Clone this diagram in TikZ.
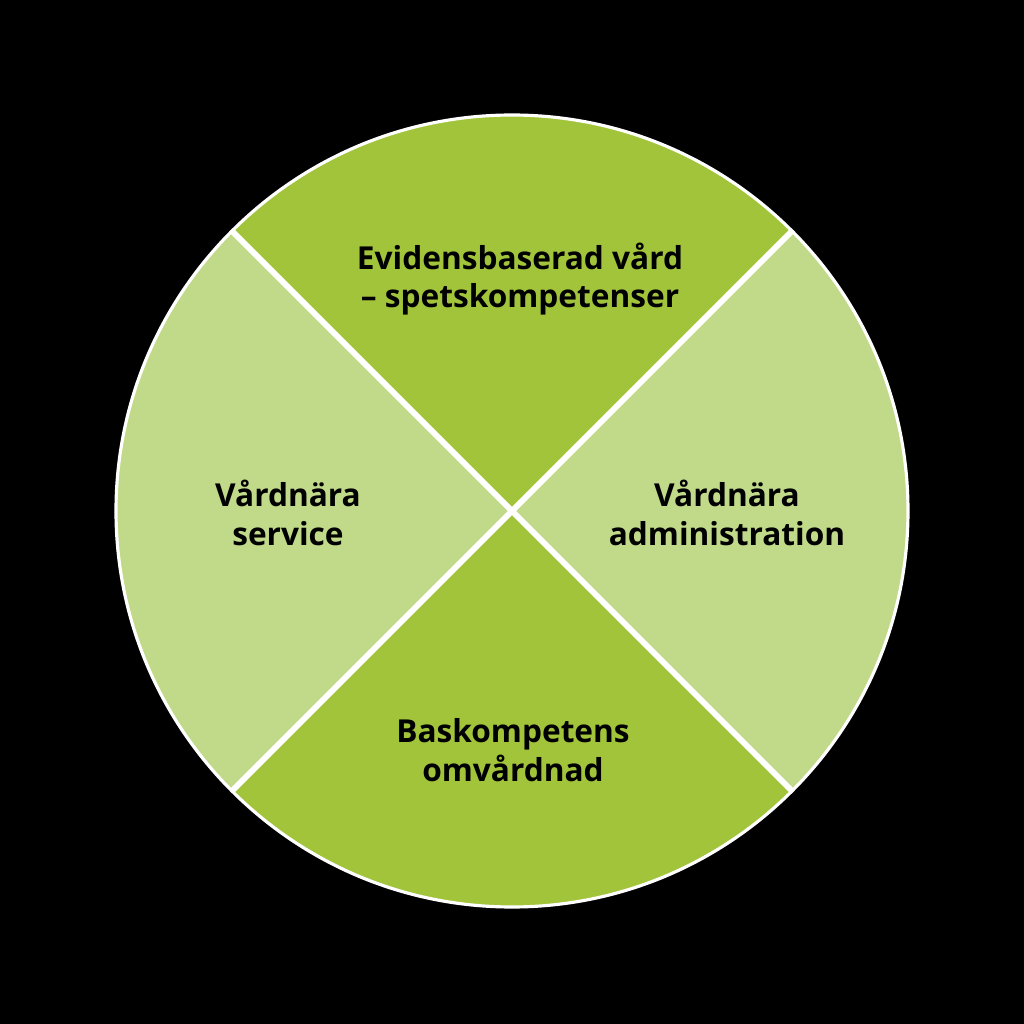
\documentclass[tikz,border=0pt]{standalone}
\usepackage{fontspec}
\setmainfont{Open Sans}
\usepackage{tikz}
\usetikzlibrary{positioning,calc}
\definecolor{leaf}{HTML}{A1C43A}
\definecolor{paleleaf}{HTML}{C1DA89}
\tikzset{sector/.style={draw=none},
  divider/.style={draw=white,line width=1.7pt},
  label/.style={align=center,text=black,font=\fontsize{9}{10.9}\selectfont\bfseries}}
\begin{document}
\begin{tikzpicture}[x=1cm,y=1cm]
\fill[black] (0,0) rectangle (10.24,10.24);
\useasboundingbox (0,0) rectangle (10.24,10.24);
\coordinate (mid) at (5.12,5.13);
% four quarters
\foreach \a/\c in {45/leaf,135/paleleaf,225/leaf,315/paleleaf}
  \fill[\c] (mid) -- ++(\a:3.95) arc[start angle=\a,end angle=\a+90,radius=3.95] -- cycle;
\draw[white,line width=0.9pt] (mid) circle[radius=3.96];
\coordinate (ne) at ($(mid)+(45:3.96)$);
\coordinate (nw) at ($(mid)+(135:3.96)$);
\coordinate (sw) at ($(mid)+(225:3.96)$);
\coordinate (se) at ($(mid)+(315:3.96)$);
\draw[divider] (ne) -- (sw);
\draw[divider] (nw) -- (se);
\node[label] (top) at (5.2,7.45) {Evidensbaserad vård\\– spetskompetenser};
\node[label] (left) at (2.88,5.11) {Vårdnära\\service};
\node[label] (right) at (7.27,5.11) {Vårdnära\\administration};
\node[label] (bottom) at (5.13,2.74) {Baskompetens\\omvårdnad};
\end{tikzpicture}
\end{document}
